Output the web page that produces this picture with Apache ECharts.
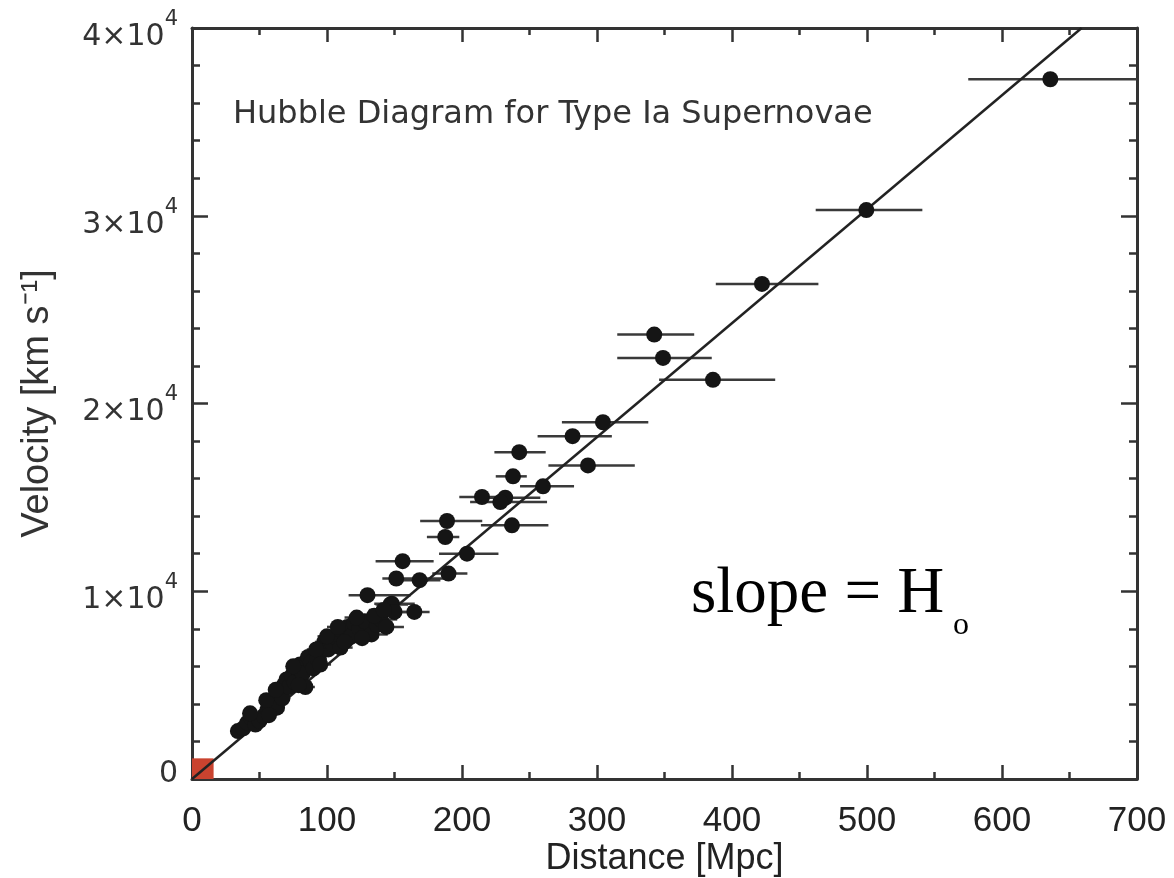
<!DOCTYPE html>
<html>
<head>
<meta charset="utf-8">
<script src="https://cdn.jsdelivr.net/npm/echarts@6/dist/echarts.min.js"></script>
<style>html,body{margin:0;padding:0;background:#fff}#c{width:1174px;height:878px}</style>
</head>
<body>
<div id="c"></div>
<script>
// Distance [Mpc] of each supernova
const distance = [
  635.8, 499.5, 422.2, 342.4, 348.9, 385.9, 304.4, 281.9, 242.4, 293.3,
  237.8, 260.0, 214.8, 232.0, 228.4, 188.9, 237.0, 187.6, 203.7, 156.0,
  190.0, 151.3, 168.6, 130.0, 148.0, 164.7,
  34, 38, 41, 44, 47, 50, 53, 56, 58, 61,
  63, 65, 67, 68, 70, 72, 74, 76, 78, 80,
  82, 84, 86, 88, 90, 93, 96, 98, 101, 104,
  107, 110, 112, 115, 118, 120, 124, 128, 133, 137,
  140, 144, 147, 150,
  43, 55, 62, 75, 92, 100, 108, 122, 135, 142,
  57, 79, 95, 113, 126
];
// Velocity [km/s]
const velocity = [
  37270, 30300, 26370, 23670, 22430, 21260, 19000, 18260, 17410, 16700,
  16120, 15590, 15020, 14980, 14750, 13740, 13510, 12890, 12000, 11600,
  10940, 10680, 10590, 9790, 9340, 8900,
  2550, 2700, 3000, 3250, 2900, 3100, 3350, 3700, 3950, 4100,
  3800, 4500, 4300, 5000, 5300, 4900, 5500, 5150, 5900, 6100,
  5600, 4900, 6500, 6200, 5900, 6400, 6800, 7300, 6900, 7200,
  7500, 7000, 7800, 8100, 7600, 8300, 8000, 8400, 7700, 8200,
  8500, 8100, 9300, 8900,
  3500, 4200, 4750, 6000, 6900, 7600, 8100, 8600, 8700, 9000,
  3400, 5000, 6100, 7300, 7500
];
// Distance error bar ends [Mpc]
const distLow = [
  575, 462, 388, 315, 315, 346, 274, 256, 224, 264,
  225, 243, 198, 210, 206, 169, 214, 174, 183, 136,
  178, 141, 156, 116, 135, 147,
  31, 35, 38, 41, 43, 46, 49, 52, 54, 57,
  58, 60, 62, 63, 65, 67, 69, 70, 72, 74,
  76, 78, 80, 82, 83, 86, 89, 91, 94, 96,
  99, 102, 104, 106, 109, 111, 115, 118, 122, 126,
  129, 133, 136, 138,
  40, 51, 58, 70, 85, 93, 100, 113, 125, 131,
  53, 73, 88, 104, 117
];
const distHigh = [
  705, 541, 464, 372, 385, 432, 338, 311, 262, 328,
  248, 283, 235, 258, 263, 215, 264, 198, 227, 179,
  204, 186, 184, 162, 165, 176,
  37, 41, 44, 47, 51, 54, 57, 60, 62, 66,
  68, 70, 72, 73, 75, 77, 80, 82, 84, 86,
  88, 91, 93, 95, 97, 100, 104, 106, 109, 112,
  116, 119, 121, 124, 128, 130, 134, 139, 145, 149,
  152, 157, 160, 163,
  46, 59, 67, 81, 99, 108, 117, 132, 146, 154,
  61, 85, 103, 122, 136
];
// Hubble-law line (slope = H0) end points
const fitLineX = [0, 659];
const fitLineY = [0, 40000];
// Highlighted box near the origin
const originBoxX = [0, 16];
const originBoxY = [0, 1100];

const chart = echarts.init(document.getElementById('c'), null, {renderer: 'canvas'});

const points = distance.map((d, i) => [d, velocity[i], distLow[i], distHigh[i]]);
const linePts = fitLineX.map((x, i) => [x, fitLineY[i]]);

const axisCol = '#333';
const tickStyle = {color: axisCol, width: 2.5};

function xAx(pos, show) {
  return {
    type: 'value', min: 0, max: 700, interval: 100, position: pos,
    axisLine: {show: true, onZero: false, lineStyle: {color: axisCol, width: 3}},
    axisTick: {show: true, inside: true, length: 14, lineStyle: tickStyle},
    minorTick: {show: true, splitNumber: 2, length: 7, lineStyle: tickStyle},
    splitLine: {show: false},
    axisLabel: {show: show, margin: 25, fontSize: 35, fontFamily: 'Liberation Sans', color: '#222'},
    name: show ? 'Distance [Mpc]' : '', nameLocation: 'middle', nameGap: 62,
    nameMoveOverlap: false,
    nameTextStyle: {fontSize: 36, fontFamily: 'Liberation Sans', color: '#222'}
  };
}
function yAx(pos, show) {
  return {
    type: 'value', min: 0, max: 40000, interval: 10000, position: pos,
    axisLine: {show: true, onZero: false, lineStyle: {color: axisCol, width: 3}},
    axisTick: {show: true, inside: true, length: 16, lineStyle: tickStyle},
    minorTick: {show: true, splitNumber: 5, length: 8, lineStyle: tickStyle},
    splitLine: {show: false},
    axisLabel: {
      show: show, margin: 14, color: '#333',
      formatter: v => v === 0 ? '{z|0}' : '{m|' + (v / 10000) + '×10}{s|4}',
      rich: {
        m: {fontSize: 30, fontFamily: 'DejaVu Sans', color: '#333', lineHeight: 30, padding: [18, 0, 0, 0]},
        s: {fontSize: 21, fontFamily: 'DejaVu Sans', color: '#333', lineHeight: 21, padding: [0, 0, 17, 0]},
        z: {fontSize: 30, fontFamily: 'DejaVu Sans', color: '#333', lineHeight: 30, padding: [0, 0, 10, 0]}
      }
    },
    name: show ? 'Velocity [km s⁻¹]' : '', nameLocation: 'middle', nameGap: 135, nameRotate: 90,
    nameMoveOverlap: false,
    nameTextStyle: {fontSize: 38, fontFamily: 'Liberation Sans', color: '#333'}
  };
}

chart.setOption({
  backgroundColor: '#fff',
  animation: false,
  grid: {left: 192, right: 37, top: 28, bottom: 99, containLabel: false, outerBoundsMode: 'none'},
  xAxis: [xAx('bottom', true), xAx('top', false)],
  yAxis: [yAx('left', true), yAx('right', false)],
  series: [
    {
      type: 'custom',
      xAxisIndex: 0, yAxisIndex: 0,
      clip: true,
      data: points,
      encode: {x: 0, y: 1},
      renderItem: function (params, api) {
        const y = api.value(1);
        const a = api.coord([api.value(2), y]);
        const b = api.coord([api.value(3), y]);
        return {
          type: 'line',
          shape: {x1: a[0], y1: a[1], x2: b[0], y2: b[1]},
          style: {stroke: '#3a3a3a', lineWidth: 2.5}
        };
      },
      z: 2
    },
    {
      type: 'line',
      data: linePts,
      showSymbol: false,
      symbol: 'none',
      lineStyle: {color: '#222', width: 2.5},
      clip: true,
      z: 3,
      markArea: {
        silent: true,
        itemStyle: {color: '#c9432f', opacity: 1},
        data: [[{coord: [originBoxX[0], originBoxY[0]]}, {coord: [originBoxX[1], originBoxY[1]]}]]
      }
    },
    {
      type: 'scatter',
      data: points.map(p => [p[0], p[1]]),
      symbol: 'circle',
      symbolSize: 16,
      itemStyle: {color: '#151515', opacity: 1},
      z: 4
    }
  ],
  graphic: [
    {
      type: 'text', left: 233, top: 99, z: 10,
      style: {text: 'Hubble Diagram for Type Ia Supernovae', fontSize: 32, fontFamily: 'DejaVu Sans', fill: '#333'}
    },
    {
      type: 'text', left: 691, top: 562, z: 10,
      style: {text: 'slope = H', fontSize: 65, fontFamily: 'Liberation Serif', fill: '#000'}
    },
    {
      type: 'text', left: 953, top: 610, z: 10,
      style: {text: 'o', fontSize: 32, fontFamily: 'Liberation Serif', fill: '#000'}
    }
  ]
});
</script>
</body>
</html>
